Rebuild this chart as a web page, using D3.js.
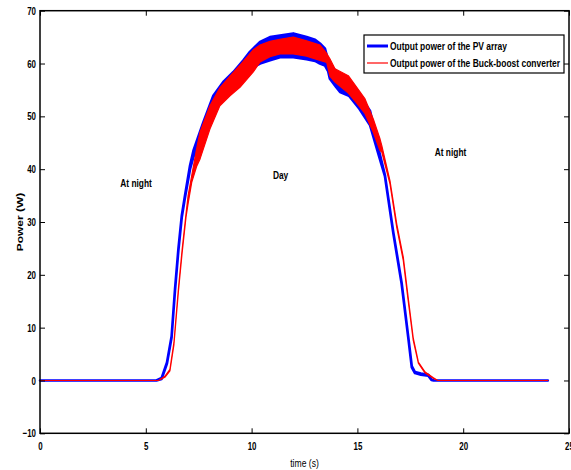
<!DOCTYPE html>
<html>
<head>
<meta charset="utf-8">
<script src="https://cdn.jsdelivr.net/npm/d3@7"></script>
<style>
  body { margin: 0; background: #fff; }
  svg text { font-family: "Liberation Sans", Arial, sans-serif; }
  .tick-label { font-size: 11px; font-weight: bold; }
  .note { font-size: 11px; font-weight: bold; }
  .legend-text { font-size: 10.5px; font-weight: bold; }
</style>
</head>
<body>
<div id="chart"></div>
<script>
// PV array output power: time (s), upper and lower edge of the ripple band (W)
const pvTime  = [0, 5.5, 5.75, 6.0, 6.22, 6.38, 6.54, 6.7, 6.85, 7.09, 7.25, 7.72, 8.19, 8.66, 9.14, 9.61, 9.92, 10.4, 10.87, 11.34, 11.97, 12.6, 13.0, 13.23, 13.47, 13.62, 13.7, 14.0, 14.18, 14.6, 15.1, 15.6, 15.99, 16.3, 16.7, 17.09, 17.4, 17.57, 17.72, 18.0, 18.35, 18.5, 18.6, 24];
const pvUpper = [0, 0, 0.5, 3.4, 8.4, 17.3, 24.9, 31.2, 35, 40.7, 43.5, 48.9, 53.9, 56.5, 58.4, 60.6, 62.2, 64.1, 65.0, 65.3, 65.7, 65.0, 64.5, 63.8, 62.8, 60.5, 59.8, 58.5, 57.5, 56.7, 54, 51, 44, 38.9, 28, 18.5, 8.4, 2.7, 1.6, 1.3, 1.1, 0.2, 0, 0];
const pvLower = [0, 0, 0.3, 3.2, 8.2, 17, 24.6, 30.9, 34.6, 40, 42.3, 47.5, 52.5, 54.5, 56, 58, 59, 60, 60.6, 61.2, 61.2, 60.8, 60.5, 60.0, 59.6, 58.5, 57.1, 55.5, 54.6, 53.9, 51.4, 48.3, 42.9, 38.7, 27.8, 18.3, 8.2, 2.5, 1.4, 1.1, 0.9, 0.1, 0, 0];

// Buck-boost converter output power
const bbTime  = [0, 5.6, 5.9, 6.14, 6.33, 6.54, 6.72, 6.9, 7.0, 7.17, 7.4, 7.56, 8.03, 8.5, 8.98, 9.45, 10.08, 10.4, 10.87, 11.34, 11.97, 12.6, 13.23, 13.55, 13.7, 13.94, 14.57, 14.97, 15.36, 15.75, 16.07, 16.15, 16.54, 16.86, 17.17, 17.4, 17.64, 17.88, 18.2, 18.59, 18.8, 24];
const bbUpper = [0, 0, 0.8, 2.1, 7.2, 17.3, 24.9, 31.5, 35, 38.8, 43.8, 47, 52, 55.4, 57.6, 59.7, 62.6, 63.5, 64.2, 64.6, 65.0, 64.3, 63.5, 61.9, 60.9, 59, 57.7, 55.5, 53.3, 49.5, 45.7, 44.5, 37.8, 29.6, 23.3, 15.7, 8.0, 3.5, 1.6, 0.5, 0, 0];
const bbLower = [0, 0, 0.6, 1.8, 6.8, 16.8, 24.3, 30.9, 33.5, 37.5, 40.5, 41.9, 47.6, 52, 53.9, 55.5, 58.4, 60.3, 61.3, 61.8, 61.8, 61.4, 60.6, 60.2, 57.6, 56.5, 54.4, 52.5, 50.5, 47, 43.5, 43.3, 37.2, 29.0, 22.7, 15.1, 7.6, 3.3, 1.4, 0.4, 0, 0];

const xTicks = [0, 5, 10, 15, 20, 25];
const yTicks = [-10, 0, 10, 20, 30, 40, 50, 60, 70];
const legendLabels = ["Output power of the PV array", "Output power of the Buck-boost converter"];
const notes = [
  {t: 4.54, p: 36.6, text: "At night"},
  {t: 11.37, p: 38.2, text: "Day"},
  {t: 19.4, p: 42.5, text: "At night"}
];

const W = 571, H = 470;
const svg = d3.select("#chart").append("svg")
  .attr("width", W)
  .attr("height", H);

const x = d3.scaleLinear().domain([0, 25]).range([40, 569]);
const y = d3.scaleLinear().domain([-10, 70]).range([433.3, 10.7]);

// the original figure's type is condensed, squeeze text horizontally
function squeeze(sel, k) {
  sel.each(function() {
    const len = this.getComputedTextLength();
    d3.select(this)
      .attr("textLength", len * k)
      .attr("lengthAdjust", "spacingAndGlyphs");
  });
}

// bands for the two series
function band(times, up, low) {
  return times.map((t, i) => ({t: t, u: up[i], l: low[i]}));
}
const area = d3.area()
  .x(d => x(d.t))
  .y0(d => y(d.l))
  .y1(d => y(d.u));

svg.append("path")
  .datum(band(pvTime, pvUpper, pvLower))
  .attr("d", area)
  .attr("fill", "#0000ff")
  .attr("stroke", "#0000ff")
  .attr("stroke-width", 2.6)
  .attr("stroke-linejoin", "round");

svg.append("path")
  .datum(band(bbTime, bbUpper, bbLower))
  .attr("d", area)
  .attr("fill", "#ff0000")
  .attr("stroke", "#ff0000")
  .attr("stroke-width", 1.2)
  .attr("stroke-linejoin", "round");

// box + axes (MATLAB style, ticks inside)
svg.append("g")
  .attr("transform", `translate(0,${y(-10)})`)
  .call(d3.axisBottom(x).tickValues(xTicks).tickSize(-5).tickPadding(9).tickFormat(d3.format("d")))
  .call(g => g.select(".domain").remove())
  .call(g => g.selectAll("text").attr("class", "tick-label").attr("fill", "#000"));

svg.append("g")
  .attr("transform", `translate(0,${y(70)})`)
  .call(d3.axisTop(x).tickValues(xTicks).tickSize(-5).tickFormat(""))
  .call(g => g.select(".domain").remove());

svg.append("g")
  .attr("transform", `translate(${x(0)},0)`)
  .call(d3.axisLeft(y).tickValues(yTicks).tickSize(-5).tickPadding(4).tickFormat(d3.format("d")))
  .call(g => g.select(".domain").remove())
  .call(g => g.selectAll("text").attr("class", "tick-label").attr("fill", "#000"));

svg.append("g")
  .attr("transform", `translate(${x(25)},0)`)
  .call(d3.axisRight(y).tickValues(yTicks).tickSize(-5).tickFormat(""))
  .call(g => g.select(".domain").remove());

svg.append("rect")
  .attr("x", x(0))
  .attr("y", y(70))
  .attr("width", x(25) - x(0))
  .attr("height", y(-10) - y(70))
  .attr("fill", "none")
  .attr("stroke", "#000")
  .attr("stroke-width", 1.5);

squeeze(svg.selectAll(".tick-label"), 0.72);

// axis titles
svg.append("text")
  .attr("x", (x(0) + x(25)) / 2)
  .attr("y", 467)
  .attr("text-anchor", "middle")
  .style("font-size", "11px")
  .text("time (s)")
  .call(s => squeeze(s, 0.78));

svg.append("text")
  .attr("transform", `translate(23,${(y(70) + y(-10)) / 2}) scale(0.8,1) rotate(-90)`)
  .attr("text-anchor", "middle")
  .style("font-size", "12px")
  .style("font-weight", "bold")
  .text("Power (W)");

// annotations
svg.selectAll(".note")
  .data(notes)
  .enter()
  .append("text")
  .attr("class", "note")
  .attr("x", d => x(d.t))
  .attr("y", d => y(d.p))
  .attr("text-anchor", "middle")
  .text(d => d.text)
  .call(s => squeeze(s, 0.76));

// legend
const legend = svg.append("g").attr("transform", "translate(364,35)");
legend.append("rect")
  .attr("width", 200)
  .attr("height", 38)
  .attr("fill", "#fff")
  .attr("stroke", "#000")
  .attr("stroke-width", 1.2);
const legColors = ["#0000ff", "#ff0000"];
const legWidths = [3, 1.2];
const legLengths = [117, 170];
legendLabels.forEach((lab, i) => {
  legend.append("line")
    .attr("x1", 3).attr("x2", 24)
    .attr("y1", 11 + i * 17).attr("y2", 11 + i * 17)
    .attr("stroke", legColors[i])
    .attr("stroke-width", legWidths[i]);
  legend.append("text")
    .attr("class", "legend-text")
    .attr("x", 26)
    .attr("y", 15 + i * 17)
    .attr("textLength", legLengths[i])
    .attr("lengthAdjust", "spacingAndGlyphs")
    .text(lab);
});
</script>
</body>
</html>
